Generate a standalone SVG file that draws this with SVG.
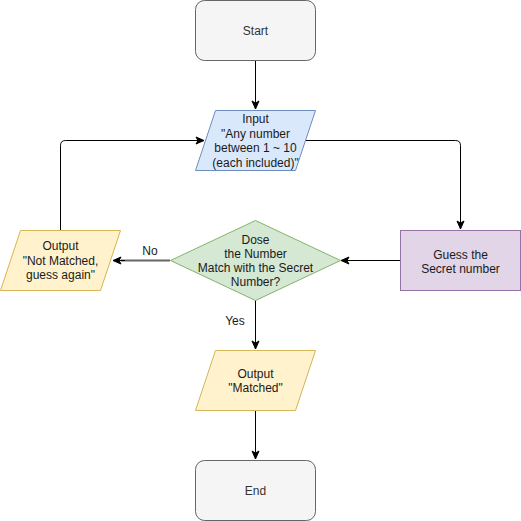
<svg xmlns="http://www.w3.org/2000/svg" width="521" height="521" viewBox="0 0 521 521">
  <style>
    text { font-family: "Liberation Sans", Arial, sans-serif; font-size: 12px; text-anchor: middle; fill: #1a1a1a; }
    .terminal { fill: #f5f5f5; stroke: #666666; stroke-width: 1; }
    .terminal-text { fill: #333333; }
    .input { fill: #dae8fc; stroke: #6c8ebf; stroke-width: 1; }
    .output { fill: #fff2cc; stroke: #d6b656; stroke-width: 1; }
    .decision { fill: #d5e8d4; stroke: #82b366; stroke-width: 1; }
    .process { fill: #e1d5e7; stroke: #9673a6; stroke-width: 1; }
    .edge { fill: none; stroke: #000000; stroke-width: 1; }
    .edge-grey { fill: none; stroke: #666666; stroke-width: 2; }
    .edge-label { fill: #1a1a1a; }
  </style>
  <defs>
    <marker id="arrow" viewBox="0 0 10 10" refX="9" refY="5" markerWidth="10" markerHeight="10" markerUnits="userSpaceOnUse" orient="auto">
      <path d="M1,1.5 L9,5 L1,8.5 L3,5 Z" fill="#000000" stroke="#000000" stroke-width="1"/>
    </marker>
  </defs>
  <rect width="521" height="521" fill="#ffffff"/>

  <g id="connectors">
    <!-- Start to Input -->
    <path class="edge" d="M255.5,60 L255.5,109" marker-end="url(#arrow)"/>
    <!-- Input to Guess -->
    <path class="edge" d="M305,140.5 L455.5,140.5 Q460.5,140.5 460.5,145.5 L460.5,229" marker-end="url(#arrow)"/>
    <!-- Guess to Decision -->
    <path class="edge" d="M400,260.5 L341,260.5" marker-end="url(#arrow)"/>
    <!-- Decision to Not Matched -->
    <path class="edge-grey" d="M170,260.5 L121,260.5"/>
    <path class="edge" d="M125,260.5 L113,260.5" marker-end="url(#arrow)"/>
    <!-- Not Matched back to Input -->
    <path class="edge" d="M60.5,230 L60.5,145.5 Q60.5,140.5 65.5,140.5 L204,140.5" marker-end="url(#arrow)"/>
    <!-- Decision to Output -->
    <path class="edge" d="M255.5,300 L255.5,349" marker-end="url(#arrow)"/>
    <!-- Output to End -->
    <path class="edge" d="M255.5,410 L255.5,459" marker-end="url(#arrow)"/>
    <text class="edge-label" x="150" y="255">No</text>
    <text class="edge-label" x="235" y="325">Yes</text>
  </g>

  <g id="start">
    <rect class="terminal" x="195.5" y="0.5" width="120" height="60" rx="9" ry="9"/>
    <text class="terminal-text" x="255.5" y="35">Start</text>
  </g>

  <g id="input">
    <polygon class="input" points="215.5,110.5 315.5,110.5 295.5,170.5 195.5,170.5"/>
    <text x="255.5" y="123">Input</text>
    <text x="255.5" y="137.5">"Any number</text>
    <text x="255.5" y="152">between 1 ~ 10</text>
    <text x="255.5" y="166.5">(each included)"</text>
  </g>

  <g id="guess">
    <rect class="process" x="400.5" y="230.5" width="120" height="60"/>
    <text x="460.5" y="259">Guess the</text>
    <text x="460.5" y="273">Secret number</text>
  </g>

  <g id="decision">
    <polygon class="decision" points="255.5,220.5 340.5,260.5 255.5,300.5 170.5,260.5"/>
    <text x="255.5" y="244">Dose</text>
    <text x="255.5" y="258">the Number</text>
    <text x="255.5" y="272">Match with the Secret</text>
    <text x="255.5" y="286">Number?</text>
  </g>

  <g id="not-matched">
    <polygon class="output" points="20.5,230.5 120.5,230.5 100.5,290.5 0.5,290.5"/>
    <text x="60.5" y="250">Output</text>
    <text x="60.5" y="264.5">"Not Matched,</text>
    <text x="60.5" y="279">guess again"</text>
  </g>

  <g id="matched">
    <polygon class="output" points="215.5,350.5 315.5,350.5 295.5,410.5 195.5,410.5"/>
    <text x="255.5" y="378">Output</text>
    <text x="255.5" y="392">"Matched"</text>
  </g>

  <g id="end">
    <rect class="terminal" x="195.5" y="460.5" width="120" height="60" rx="9" ry="9"/>
    <text class="terminal-text" x="255.5" y="495">End</text>
  </g>
</svg>
